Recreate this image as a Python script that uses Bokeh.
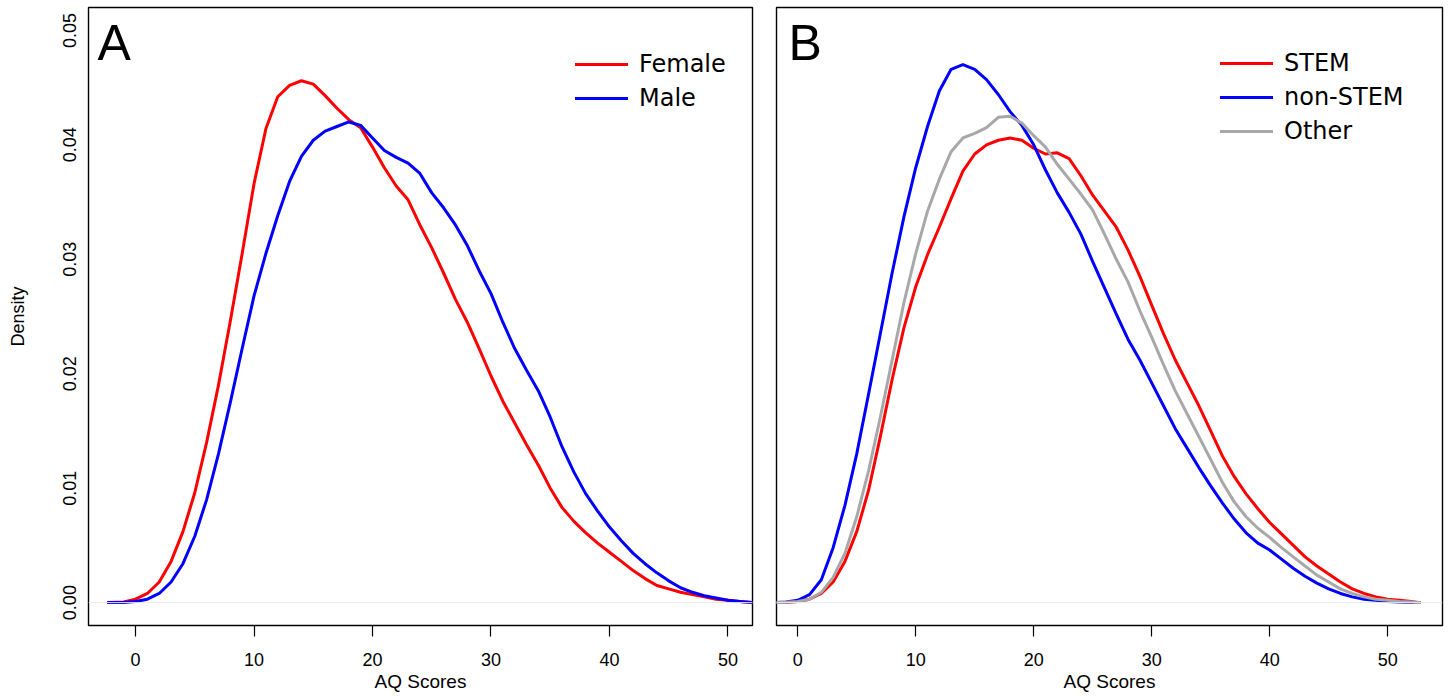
from bokeh.plotting import figure
from bokeh.layouts import row
from bokeh.models import (FixedTicker, PrintfTickFormatter, Span, Label, Legend, LegendItem, Range1d)
from bokeh.embed import file_html
from bokeh.resources import INLINE

# ---------------- data ----------------
panel_labels = ["A", "B"]
x_label = "AQ Scores"
y_label = "Density"
x_ticks = [0, 10, 20, 30, 40, 50]
y_ticks = [0.0, 0.01, 0.02, 0.03, 0.04, 0.05]

# Panel A: sex
score_a = [-2.3, -1, 0, 1, 2, 3, 4, 5, 6, 7, 8, 9, 10, 11, 12, 13, 14, 15, 16, 17, 18, 19,
           20, 21, 22, 23, 24, 25, 26, 27, 28, 29, 30, 31, 32, 33, 34, 35, 36, 37, 38, 39,
           40, 41, 42, 43, 44, 45, 46, 47, 48, 49, 50, 51, 52]
female = [0.0, 0.00005, 0.0003, 0.0008, 0.0018, 0.0036, 0.0062, 0.0096, 0.0140, 0.0190,
          0.0246, 0.0305, 0.0366, 0.0414, 0.0442, 0.0452, 0.0456, 0.0453, 0.0443, 0.0432,
          0.0422, 0.0415, 0.0398, 0.0380, 0.0364, 0.0352, 0.0330, 0.0310, 0.0288, 0.0265,
          0.0245, 0.0222, 0.0198, 0.0176, 0.0157, 0.0138, 0.0120, 0.0100, 0.0083, 0.0071,
          0.0061, 0.0052, 0.0044, 0.0036, 0.0028, 0.0021, 0.0015, 0.0012, 0.0009, 0.0007,
          0.0005, 0.0003, 0.0002, 0.0001, 0.0]
male = [0.0, 0.00002, 0.0001, 0.0003, 0.0008, 0.0018, 0.0034, 0.0058, 0.0090, 0.0130,
        0.0175, 0.0222, 0.0268, 0.0305, 0.0338, 0.0368, 0.0390, 0.0404, 0.0412, 0.0416,
        0.0420, 0.0417, 0.0406, 0.0395, 0.0389, 0.0384, 0.0375, 0.0358, 0.0345, 0.0330,
        0.0312, 0.0290, 0.0270, 0.0245, 0.0222, 0.0203, 0.0185, 0.0162, 0.0136, 0.0114,
        0.0095, 0.0080, 0.0066, 0.0054, 0.0043, 0.0034, 0.0026, 0.0019, 0.0013, 0.0009,
        0.0006, 0.0004, 0.0002, 0.0001, 0.0]

# Panel B: degree
score_b = [-2.3, -1, 0, 1, 2, 3, 4, 5, 6, 7, 8, 9, 10, 11, 12, 13, 14, 15, 16, 17, 18, 19,
           20, 21, 22, 23, 24, 25, 26, 27, 28, 29, 30, 31, 32, 33, 34, 35, 36, 37, 38, 39,
           40, 41, 42, 43, 44, 45, 46, 47, 48, 49, 50, 51, 52, 52.7]
stem = [0.0, 0.00002, 0.0001, 0.0003, 0.0008, 0.0018, 0.0036, 0.0062, 0.0098, 0.0145,
        0.0195, 0.0240, 0.0276, 0.0304, 0.0328, 0.0353, 0.0377, 0.0392, 0.0400, 0.0404,
        0.0406, 0.0404, 0.0397, 0.0392, 0.0393, 0.0388, 0.0373, 0.0356, 0.0342, 0.0328,
        0.0308, 0.0285, 0.0260, 0.0235, 0.0212, 0.0192, 0.0172, 0.0150, 0.0128, 0.0110,
        0.0095, 0.0082, 0.0070, 0.0060, 0.0050, 0.0040, 0.0032, 0.0025, 0.0018, 0.0012,
        0.0008, 0.0005, 0.0003, 0.0002, 0.0001, 0.0]
non_stem = [0.0, 0.00005, 0.0002, 0.0007, 0.0020, 0.0048, 0.0085, 0.0130, 0.0182, 0.0235,
            0.0288, 0.0337, 0.0380, 0.0416, 0.0447, 0.0466, 0.0470, 0.0466, 0.0457, 0.0444,
            0.0429, 0.0417, 0.0400, 0.0378, 0.0358, 0.0341, 0.0322, 0.0298, 0.0275, 0.0252,
            0.0230, 0.0212, 0.0192, 0.0172, 0.0152, 0.0135, 0.0118, 0.0102, 0.0087, 0.0073,
            0.0061, 0.0052, 0.0046, 0.0038, 0.0030, 0.0023, 0.0017, 0.0012, 0.0008, 0.0005,
            0.0003, 0.0002, 0.0001, 0.00005, 0.0, 0.0]
other = [0.0, 0.00003, 0.0001, 0.0003, 0.0009, 0.0022, 0.0043, 0.0075, 0.0115, 0.0162,
         0.0212, 0.0262, 0.0305, 0.0342, 0.0370, 0.0394, 0.0406, 0.0410, 0.0415, 0.0424,
         0.0425, 0.0419, 0.0408, 0.0398, 0.0383, 0.0370, 0.0357, 0.0343, 0.0322, 0.0300,
         0.0280, 0.0255, 0.0232, 0.0208, 0.0185, 0.0165, 0.0145, 0.0125, 0.0105, 0.0088,
         0.0075, 0.0065, 0.0057, 0.0048, 0.0040, 0.0032, 0.0024, 0.0018, 0.0012, 0.0008,
         0.0005, 0.0003, 0.0002, 0.0001, 0.00005, 0.0]

RED = "#ff0000"
BLUE = "#0000ff"
GRAY = "#a8a8a8"
FONT = "Liberation Sans"
LEGEND_FONT = "DejaVu Sans"

FIG_H = 695
BORDER_TOP = 7
BORDER_BOTTOM = 70
FRAME_H = FIG_H - BORDER_TOP - BORDER_BOTTOM

y_range = Range1d(-0.002, 0.052)


def make_fig(width, x_start, x_end, left_border, right_border, with_y):
    p = figure(width=width, height=FIG_H, output_backend="svg", toolbar_location=None,
               x_range=Range1d(x_start, x_end), y_range=y_range,
               y_axis_location="left" if with_y else None,
               min_border_left=left_border, min_border_right=right_border,
               min_border_top=BORDER_TOP, min_border_bottom=BORDER_BOTTOM)
    p.xgrid.visible = False
    p.ygrid.visible = False
    p.outline_line_color = "black"
    p.outline_line_width = 1.4
    p.background_fill_color = "white"
    p.border_fill_color = "white"

    xa = p.xaxis[0]
    xa.ticker = FixedTicker(ticks=x_ticks)
    xa.axis_label = x_label
    xa.axis_line_color = None
    xa.major_tick_out = 11
    xa.major_tick_in = 0
    xa.major_tick_line_color = "black"
    xa.major_tick_line_width = 1.2
    xa.minor_tick_line_color = None
    xa.major_label_standoff = 16
    xa.major_label_text_font = FONT
    xa.major_label_text_font_size = "18px"
    xa.major_label_text_color = "black"
    xa.axis_label_standoff = 2
    xa.axis_label_text_font = FONT
    xa.axis_label_text_font_size = "19px"
    xa.axis_label_text_font_style = "normal"
    xa.axis_label_text_color = "black"

    if with_y:
        ya = p.yaxis[0]
        ya.ticker = FixedTicker(ticks=y_ticks)
        ya.formatter = PrintfTickFormatter(format="%.2f")
        ya.axis_label = y_label
        ya.axis_line_color = None
        ya.major_tick_out = 0
        ya.major_tick_in = 0
        ya.major_tick_line_color = None
        ya.minor_tick_line_color = None
        ya.major_label_orientation = "parallel"
        ya.major_label_standoff = 12
        ya.major_label_text_font = FONT
        ya.major_label_text_font_size = "18px"
        ya.major_label_text_color = "black"
        ya.axis_label_standoff = 33
        ya.axis_label_text_font = FONT
        ya.axis_label_text_font_size = "18px"
        ya.axis_label_text_font_style = "normal"
        ya.axis_label_text_color = "black"

    p.add_layout(Span(location=0, dimension="width", line_color="#e8e8e8", line_width=1))
    return p


def style_legend(p, items, x, y):
    leg = Legend(items=items, location=(x, y), orientation="vertical",
                 glyph_width=53, glyph_height=34, label_height=34, label_standoff=11,
                 spacing=0, padding=0, margin=0, border_line_color=None,
                 background_fill_alpha=0, label_text_font=LEGEND_FONT,
                 label_text_font_size="24px", label_text_color="black")
    p.add_layout(leg, "center")


def panel_letter(p, text, x):
    p.add_layout(Label(x=x, y=583, x_units="screen", y_units="screen", text=text,
                       text_font=FONT, text_font_size="50px", text_color="black",
                       text_baseline="alphabetic", text_align="left"))


# Panel A
p1 = make_fig(764, -3.97, 52.07, 88, 12, True)
r_f = p1.line(score_a, female, line_color=RED, line_width=3, line_join="round", line_cap="round")
r_m = p1.line(score_a, male, line_color=BLUE, line_width=3, line_join="round", line_cap="round")
style_legend(p1, [LegendItem(label="Female", renderers=[r_f]),
                  LegendItem(label="Male", renderers=[r_m])], 487, FRAME_H - 40 - 68)
panel_letter(p1, panel_labels[0], 9)

# Panel B
p2 = make_fig(684, -1.8, 54.65, 12, 6, False)
r_s = p2.line(score_b, stem, line_color=RED, line_width=3, line_join="round", line_cap="round")
r_n = p2.line(score_b, non_stem, line_color=BLUE, line_width=3, line_join="round", line_cap="round")
r_o = p2.line(score_b, other, line_color=GRAY, line_width=3, line_join="round", line_cap="round")
style_legend(p2, [LegendItem(label="STEM", renderers=[r_s]),
                  LegendItem(label="non-STEM", renderers=[r_n]),
                  LegendItem(label="Other", renderers=[r_o])], 444, FRAME_H - 39 - 102)
panel_letter(p2, panel_labels[1], 12)

layout = row(p1, p2)
open("out.html", "w").write(file_html(layout, INLINE))
